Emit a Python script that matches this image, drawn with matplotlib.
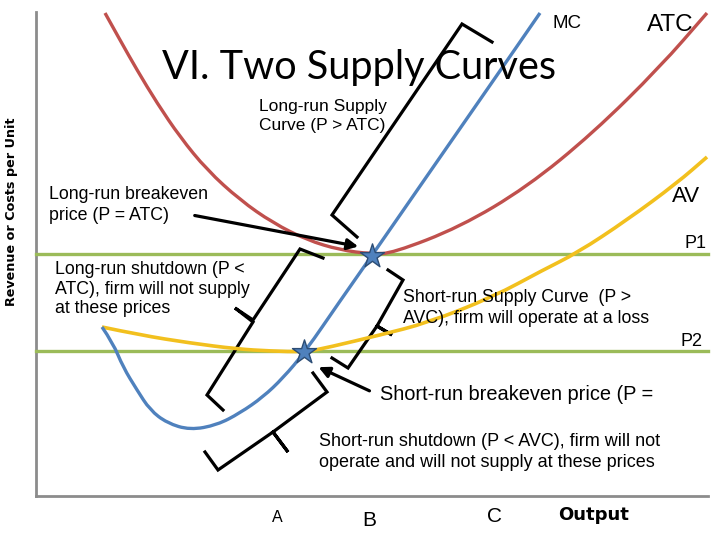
import matplotlib.pyplot as plt
from matplotlib.path import Path
from matplotlib.patches import PathPatch

# diagram is drawn in picture units (x to the right, y downwards)

# marginal cost
mc_x = [102, 113, 123, 137, 150, 167, 190, 217, 240, 263, 283, 305, 340, 373, 427, 493, 540]
mc_y = [327, 343, 367, 390, 410, 423, 430, 425, 413, 397, 378, 352, 301, 254, 176, 81, 13]

# average total cost
atc_x = [105, 120, 137, 157, 180, 207, 240, 273, 307, 340, 372, 393, 460, 527, 593, 660, 707]
atc_y = [13, 40, 70, 103, 137, 170, 200, 223, 240, 250, 254, 253, 227, 187, 133, 67, 13]

# average variable cost
avc_x = [102, 140, 190, 237, 270, 305, 330, 380, 427, 493, 543, 577, 627, 677, 707]
avc_y = [327, 335, 343, 349, 351, 352, 347, 335, 323, 297, 270, 253, 220, 183, 157]

# price levels
p1 = 254
p2 = 351

# breakeven points
stars_x = [372, 304]
stars_y = [256, 352]

# brackets
brace_top = ([357, 332, 462, 492], [237, 215, 24, 42])
brace_left = ([323, 300, 253, 235, 253, 207, 223], [258, 249, 320, 308, 322, 395, 410])
brace_right = ([388, 403, 377, 392, 377, 348, 332], [270, 280, 326, 335, 326, 368, 358])
brace_bottom = ([313, 327, 273, 288, 273, 218, 205], [373, 392, 432, 452, 432, 470, 452])


def kurve(xs, ys, farge, lw):
    # glatt kurve: punktene brukes som kontrollpunkter
    verts = [(xs[0], ys[0])]
    codes = [Path.MOVETO]
    for i in range(1, len(xs) - 1):
        verts += [(xs[i], ys[i]), ((xs[i] + xs[i + 1]) / 2, (ys[i] + ys[i + 1]) / 2)]
        codes += [Path.CURVE3, Path.CURVE3]
    verts.append((xs[-1], ys[-1]))
    codes.append(Path.LINETO)
    ax.add_patch(PathPatch(Path(verts, codes), facecolor='none', edgecolor=farge, lw=lw, zorder=3))


fig = plt.figure(figsize=(7.2, 5.4), dpi=100)
ax = fig.add_axes([0, 0, 1, 1])
ax.set_xlim(0, 720)
ax.set_ylim(540, 0)
ax.axis('off')

# axes of the diagram
ax.plot([36, 36], [12, 496], color='#8c8c8c', lw=2)
ax.plot([36, 708], [496, 496], color='#8c8c8c', lw=2)

ax.plot([36, 708], [p1, p1], color='#9BBB59', lw=2.4)
ax.plot([36, 708], [p2, p2], color='#9BBB59', lw=2.4)

kurve(atc_x, atc_y, '#C0504D', 2.4)
kurve(avc_x, avc_y, '#F2C01E', 2.6)
kurve(mc_x, mc_y, '#4F81BD', 2.4)

ax.scatter(stars_x, stars_y, marker='*', s=330, color='#4F81BD', edgecolor='#2C4D75', lw=1, zorder=5)

for b in [brace_top, brace_left, brace_right, brace_bottom]:
    ax.plot(b[0], b[1], color='black', lw=2.3, solid_joinstyle='miter')

ax.annotate('', xy=(361, 247), xytext=(192, 215),
            arrowprops=dict(arrowstyle='-|>', color='black', lw=2.3, mutation_scale=16))
ax.annotate('', xy=(316, 366), xytext=(372, 392),
            arrowprops=dict(arrowstyle='-|>', color='black', lw=2.3, mutation_scale=16))

arial = 'Liberation Sans'
ax.text(359, 68, 'VI. Two Supply Curves', fontsize=28.5, family='Lato', ha='center', va='center')
ax.text(259, 116, 'Long-run Supply\nCurve (P > ATC)', fontsize=12.5, family=arial, va='center', linespacing=1.3)
ax.text(553, 23, 'MC', fontsize=13.5, family=arial, va='center')
ax.text(647, 25, 'ATC', fontsize=17.5, family=arial, va='center')
ax.text(672, 197, 'AV', fontsize=16, family=arial, va='center')
ax.text(685, 244, 'P1', fontsize=13, family=arial, va='center')
ax.text(680, 342, 'P2', fontsize=13, family=arial, va='center')
ax.text(49, 205, 'Long-run breakeven\nprice (P = ATC)', fontsize=12.8, family=arial, va='center', linespacing=1.32)
ax.text(55, 289, 'Long-run shutdown (P <\nATC), firm will not supply\nat these prices', fontsize=12.8,
        family=arial, va='center', linespacing=1.2)
ax.text(403, 308, 'Short-run Supply Curve  (P >\nAVC), firm will operate at a loss', fontsize=12.8,
        family=arial, va='center', linespacing=1.27)
ax.text(380, 394, 'Short-run breakeven price (P =', fontsize=14.4, family=arial, va='center')
ax.text(319, 452, 'Short-run shutdown (P < AVC), firm will not\noperate and will not supply at these prices',
        fontsize=13, family=arial, va='center', linespacing=1.25)
ax.text(277, 518, 'A', fontsize=11.5, family=arial, ha='center', va='center')
ax.text(369, 520, 'B', fontsize=15, family=arial, ha='center', va='center')
ax.text(494, 516, 'C', fontsize=15, family=arial, ha='center', va='center')
ax.text(594, 515, 'Output', fontsize=13, family='DejaVu Sans', weight='bold', ha='center', va='center')
ax.text(12, 212, 'Revenue or Costs per Unit', fontsize=9.2, family='DejaVu Sans', weight='bold',
        rotation=90, ha='center', va='center')

plt.savefig('out.png')
